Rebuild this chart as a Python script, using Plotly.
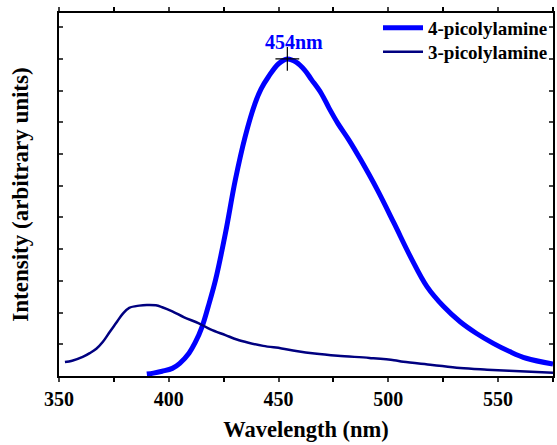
import plotly.graph_objects as go

# 4-picolylamine emission (wavelength nm, intensity a.u.)
wl_4 = [390, 393, 397, 401.6, 405, 409.2, 412, 415.2, 418, 421.3, 425.8, 430.3, 434.8, 439.3,
        442, 445.4, 450, 454, 458, 461.9, 465, 469.4, 473, 477, 482, 487.5, 495, 502.6, 510.1,
        517.6, 525.2, 532.7, 540.2, 547.8, 555.3, 562.8, 575]
int_4 = [0.06, 0.09, 0.15, 0.24, 0.4, 0.72, 1.05, 1.56, 2.2, 3.03, 4.5, 6.18, 7.55, 8.6,
         9.05, 9.44, 9.85, 10.0, 9.9, 9.65, 9.35, 8.92, 8.45, 7.97, 7.45, 6.81, 5.87, 4.82, 3.76,
         2.82, 2.19, 1.71, 1.34, 1.03, 0.77, 0.56, 0.38]

# 3-picolylamine emission
wl_3 = [352.7, 356, 360.8, 364, 367, 370, 373, 376, 379, 382, 386.6, 390, 394.1, 397, 401.6,
        407, 413.7, 419, 425.8, 431, 436.3, 443, 451.4, 458, 466.4, 477, 491.4, 502.6,
        506.8, 520, 532.7, 545, 560, 575]
int_3 = [0.44, 0.48, 0.6, 0.72, 0.86, 1.08, 1.38, 1.67, 1.96, 2.15, 2.22, 2.24, 2.23, 2.17, 2.04,
         1.85, 1.66, 1.47, 1.29, 1.15, 1.05, 0.95, 0.87, 0.79, 0.71, 0.64, 0.57, 0.5,
         0.45, 0.35, 0.25, 0.2, 0.15, 0.1]

peak_wl = [454]
peak_int = [10.0]
peak_label = "454nm"

x_tickvals = [350, 400, 450, 500, 550]

FONT = "Liberation Serif"

fig = go.Figure()
fig.add_trace(go.Scatter(x=wl_4, y=int_4, mode="lines", name="4-picolylamine", legend="legend",
                         line=dict(color="#0000ff", width=5, shape="spline", smoothing=1.0)))
fig.add_trace(go.Scatter(x=wl_3, y=int_3, mode="lines", name="3-picolylamine", legend="legend2",
                         line=dict(color="#000080", width=2.5, shape="spline", smoothing=1.0)))
fig.add_trace(go.Scatter(x=peak_wl, y=peak_int, mode="markers", showlegend=False,
                         marker=dict(symbol="cross-thin", size=17,
                                     line=dict(color="black", width=1.2))))
fig.add_annotation(x=peak_wl[0], y=peak_int[0], text=peak_label, showarrow=False,
                   yshift=17, xshift=7, font=dict(family=FONT, size=20, color="#0000ff", weight="bold"))

legend_common = dict(x=1.0, xanchor="right", yanchor="middle", bgcolor="rgba(0,0,0,0)",
                     font=dict(family=FONT, size=19, color="black", weight="bold"),
                     itemwidth=40)
fig.update_layout(
    width=557, height=445,
    margin=dict(l=59, r=2, t=13, b=69),
    plot_bgcolor="white", paper_bgcolor="white",
    showlegend=True,
    legend=dict(y=0.959, **legend_common),
    legend2=dict(y=0.893, **legend_common),
    font=dict(family=FONT, color="black"),
)
fig.update_xaxes(
    range=[350, 575], tickvals=x_tickvals, ticks="outside", ticklen=4, tickwidth=1.5,
    minor=dict(ticks="outside", dtick=25, tick0=350, ticklen=4, tickwidth=1.5, tickcolor="black"),
    showline=True, linecolor="black", linewidth=2, mirror="ticks", showgrid=False, zeroline=False,
    tickfont=dict(family=FONT, size=20, weight="bold"),
    title=dict(text="Wavelength (nm)", font=dict(family=FONT, size=22.5, weight="bold"), standoff=12),
)
fig.update_yaxes(
    range=[0, 11.45], dtick=1, tick0=0, ticks="inside", ticklen=4, tickwidth=1.5, showticklabels=False,
    showline=True, linecolor="black", linewidth=2, mirror="ticks", showgrid=False, zeroline=False,
    title=dict(text="Intensity (arbitrary units)", font=dict(family=FONT, size=23, weight="bold"), standoff=22),
)

fig.write_html("out.html")
